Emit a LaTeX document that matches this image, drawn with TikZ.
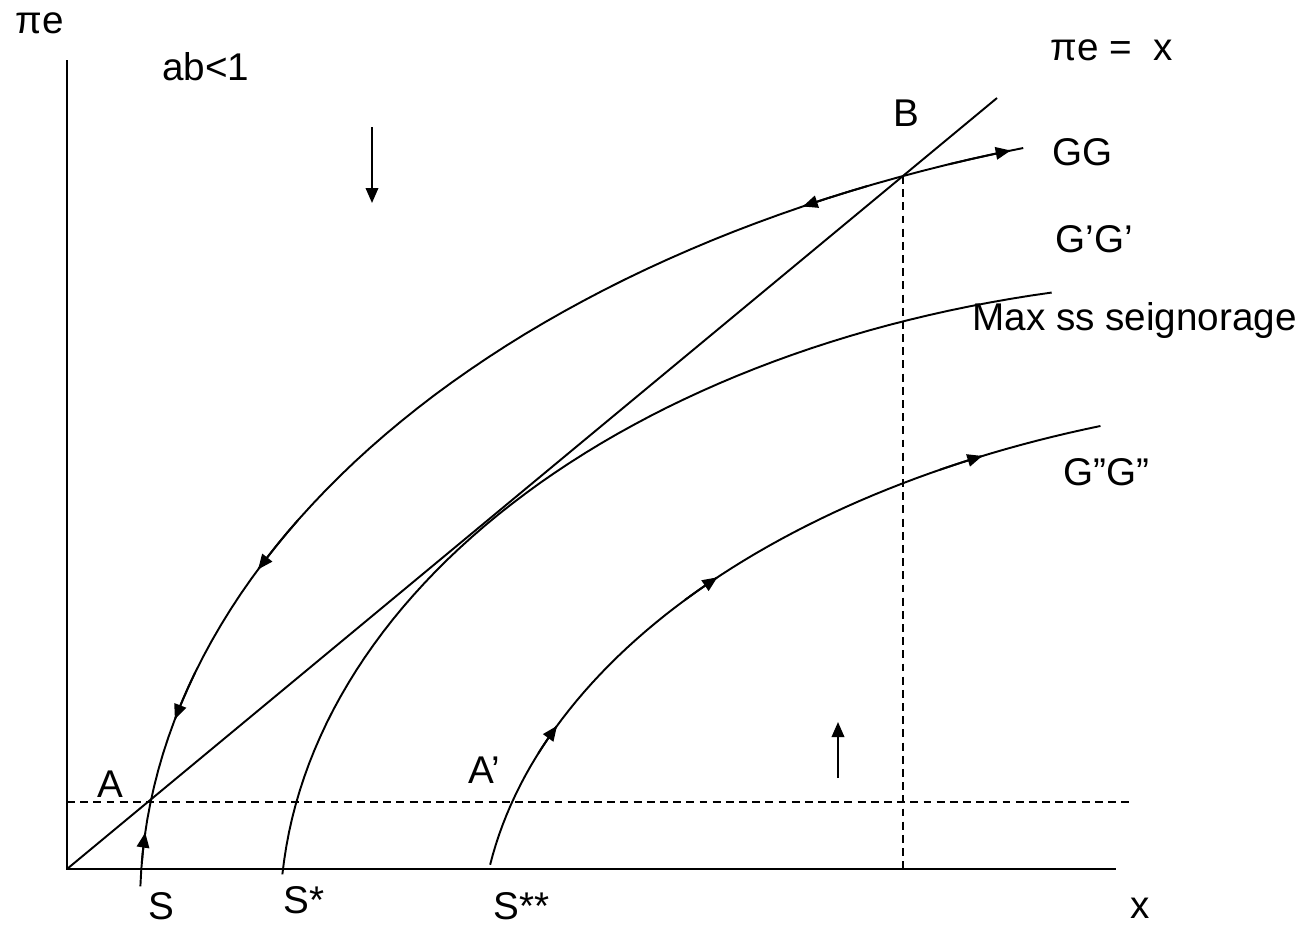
\documentclass[tikz,border=0pt]{standalone}
\usepackage{fontspec}
\setmainfont{Liberation Sans}
\usetikzlibrary{arrows.meta}

% elliptic arcs of the three schedules, angle from #1 to #2
\newcommand{\ggarc}[2]{plot[domain=#1:#2, samples=60]
    ({1400+1260*cos(\x)}, {904.4-792.7*sin(\x)})}
\newcommand{\gpgarc}[2]{plot[domain=#1:#2, samples=60]
    ({1250+970*cos(\x)}, {919-640*sin(\x)})}
\newcommand{\gppgarc}[2]{plot[domain=#1:#2, samples=60]
    ({1400+920*cos(\x)}, {946-550*sin(\x)})}

\begin{document}
\begin{tikzpicture}[
            x=0.02cm, y=-0.02cm,
            >={Triangle[length=0.3cm,width=0.25cm]},
            axisline/.style={
                draw=black,
                line width=1.2pt
            },
            schedule/.style={
                draw=black,
                line width=1.1pt
            },
            flowtip/.style={
                schedule,
                ->
            },
            guideline/.style={
                draw=black,
                line width=1pt,
                dash pattern=on 4.5pt off 3pt
            },
            flowarrow/.style={
                ->,
                line width=1.1pt
            },
            plotlabel/.style={
                font=\fontsize{22}{26}\selectfont,
                inner sep=0pt,
                anchor=base west
            }
        ]
        \useasboundingbox (0,0) rectangle (1311,927);

        % --- Axes and the line pi e = x ---
        \coordinate (origin) at (67,869);
        \coordinate (ytop) at (67,60);
        \coordinate (xend) at (1116,869);
        \coordinate (diagend) at (997,98);
        \coordinate (A) at (150,802);
        \coordinate (B) at (903,176);
        \coordinate (dashend) at (1130,802);

        \draw[axisline] (ytop) -- (origin) -- (xend);
        \draw[schedule] (origin) -- (diagend);

        \draw[guideline] (origin |- A) -- (dashend);
        \draw[guideline] (B) -- (B |- origin);

        % --- GG schedule ---
        \draw[schedule] \ggarc{178.7}{107.4};
        \draw[flowtip] \ggarc{177}{174.8};
        \draw[flowtip] \ggarc{163}{166.5};
        \draw[flowtip] \ggarc{151}{155};
        \draw[flowtip] \ggarc{115}{118.3};
        \draw[flowtip] \ggarc{111}{108};

        % --- G'G' schedule ---
        \draw[schedule] \gpgarc{176}{101.8};

        % --- G''G'' schedule ---
        \draw[schedule] \gppgarc{171.5}{109};
        \draw[flowtip] \gppgarc{159.5}{156.4};
        \draw[flowtip] \gppgarc{141}{137.9};
        \draw[flowtip] \gppgarc{120}{117};

        % --- Motion of pi e off the schedules ---
        \coordinate (downfrom) at (372,127);
        \coordinate (downto) at (372,203);
        \coordinate (upfrom) at (838,778);
        \coordinate (upto) at (838,722);
        \draw[flowarrow] (downfrom) -- (downto);
        \draw[flowarrow] (upfrom) -- (upto);

        % --- Labels ---
        \node[plotlabel] (ylabel) at (15,33) {πe};
        \node[plotlabel] (xlabel) at (1130,918) {x};
        \node[plotlabel] (cond) at (162,80) {ab<1};
        \node[plotlabel] (diaglabel) at (1050,60) {πe =\ \ x};
        \node[plotlabel] (Blabel) at (893,126) {B};
        \node[plotlabel] (Alabel) at (97,797) {A};
        \node[plotlabel] (Aplabel) at (468,783) {A’};
        \node[plotlabel] (GGlabel) at (1052,165) {GG};
        \node[plotlabel] (Gplabel) at (1055,252) {G’G’};
        \node[plotlabel] (maxlabel) at (972,330) {Max ss seignorage};
        \node[plotlabel] (Gpplabel) at (1063,485) {G”G”};
        \node[plotlabel] (Slabel) at (148,919) {S};
        \node[plotlabel] (Sslabel) at (283,913) {S*};
        \node[plotlabel] (Ssslabel) at (493,919) {S**};

        \end{tikzpicture}
\end{document}
